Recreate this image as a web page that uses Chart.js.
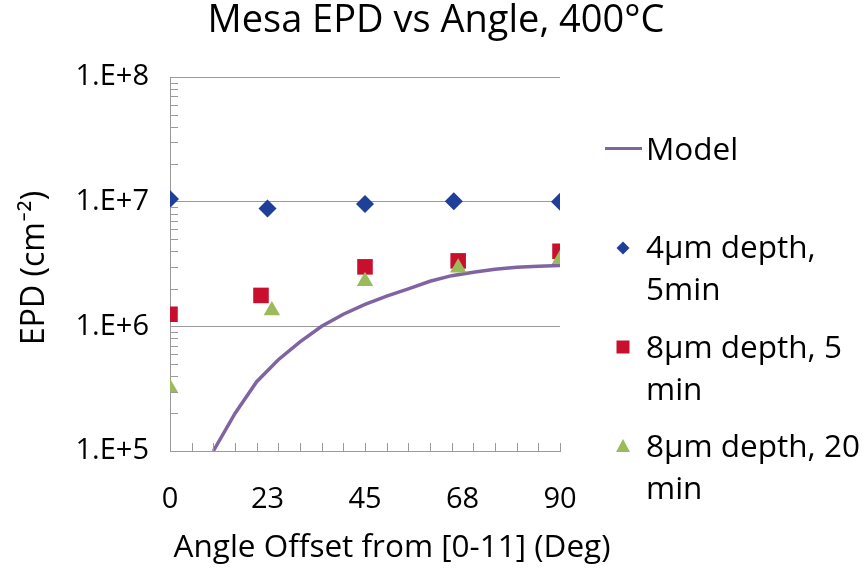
<!DOCTYPE html>
<html>
<head>
<meta charset="utf-8">
<script src="https://cdn.jsdelivr.net/npm/chart.js@4"></script>
<style>
  html, body { margin: 0; padding: 0; background: #fff; }
  #wrap { width: 868px; height: 571px; position: relative; }
</style>
</head>
<body>
<div id="wrap"><canvas id="chart" width="868" height="571"></canvas></div>
<script>
// ===== DATA =====
const xTickValues = [0, 22.5, 45, 67.5, 90];
const yTickValues = [1e5, 1e6, 1e7, 1e8];

const epd4um5minX = [0, 22.5, 45, 65.5, 90];
const epd4um5min  = [1.05e7, 8.8e6, 9.6e6, 1.01e7, 1.0e7];
const epd8um5minX = [0, 21, 45, 66.5, 90];
const epd8um5min  = [1.25e6, 1.77e6, 3.0e6, 3.35e6, 4.0e6];
const epd8um20minX = [0, 23.5, 45, 66.5, 90];
const epd8um20min = [3.2e5, 1.34e6, 2.3e6, 2.95e6, 3.45e6];

const modelX = [10, 15, 20, 25, 30, 35, 40, 45, 50, 55, 60, 65, 70, 75, 80, 85, 90];
const modelY = [1.0e5, 2.0e5, 3.6e5, 5.4e5, 7.5e5, 1.0e6, 1.25e6, 1.5e6, 1.75e6, 2.0e6,
                2.3e6, 2.55e6, 2.72e6, 2.87e6, 2.98e6, 3.03e6, 3.08e6];

const labels = ["Model", "4µm depth,\n5min", "8µm depth, 5\nmin", "8µm depth, 20\nmin"];
const colors = ["#8064A2", "#1F3F98", "#C8102E", "#9BBB59"];

const FONT = "'Open Sans', Lato, sans-serif";
const AXIS_GRAY = "#9A9A9A";

const pts = (xs, ys) => xs.map((x, i) => ({x, y: ys[i]}));

// ===== EXTRA DRAWING: titles, legend, inner minor ticks =====
const decor = {
  id: "decor",
  afterDraw(chart){
    const ctx = chart.ctx;
    const xs = chart.scales.x, ys = chart.scales.y;
    const area = chart.chartArea;
    ctx.save();

    // minor ticks on the y axis (inside)
    ctx.strokeStyle = AXIS_GRAY;
    ctx.lineWidth = 1;
    for(let d = 5; d < 8; d++){
      for(let m = 2; m <= 9; m++){
        const py = Math.round(ys.getPixelForValue(m * Math.pow(10, d))) + 0.5;
        ctx.beginPath();
        ctx.moveTo(area.left, py);
        ctx.lineTo(area.left + 8, py);
        ctx.stroke();
      }
    }
    // minor ticks on the x axis (inside), every 5 deg
    for(let v = 5; v <= 90; v += 5){
      const px = Math.round(xs.getPixelForValue(v)) + 0.5;
      ctx.beginPath();
      ctx.moveTo(px, area.bottom);
      ctx.lineTo(px, area.bottom - 8);
      ctx.stroke();
    }

    // title
    ctx.fillStyle = "#000";
    ctx.textAlign = "center";
    ctx.textBaseline = "alphabetic";
    ctx.font = `38px ${FONT}`;
    ctx.fillText("Mesa EPD vs Angle, 400°C", 436, 32);

    // x title
    ctx.font = `31.5px ${FONT}`;
    ctx.fillText("Angle Offset from [0-11] (Deg)", 392, 557);

    // y title
    ctx.save();
    ctx.translate(44, 268);
    ctx.rotate(-Math.PI / 2);
    ctx.textAlign = "center";
    ctx.font = `32px ${FONT}`;
    ctx.fillText("EPD (cm\u207B\u00B2)", 0, 0);
    ctx.restore();

    // legend
    ctx.textAlign = "left";
    ctx.font = `31.5px ${FONT}`;
    const ds = chart.data.datasets;
    // Model line sample
    ctx.strokeStyle = ds[0].borderColor;
    ctx.lineWidth = 3;
    ctx.beginPath();
    ctx.moveTo(605, 148.5);
    ctx.lineTo(642, 148.5);
    ctx.stroke();
    ctx.fillStyle = "#000";
    ctx.fillText(ds[0].label, 646, 160);

    const rows = [
      {y: 258, my: 248, idx: 1},
      {y: 358, my: 347, idx: 2},
      {y: 457, my: 446, idx: 3}
    ];
    rows.forEach(r => {
      const d = ds[r.idx];
      const mx = 623, my = r.my;
      ctx.fillStyle = d.backgroundColor;
      ctx.beginPath();
      if(d.pointStyle === "rectRot"){
        ctx.moveTo(mx, my - 6.5); ctx.lineTo(mx + 6.5, my); ctx.lineTo(mx, my + 6.5); ctx.lineTo(mx - 6.5, my);
      } else if(d.pointStyle === "rect"){
        ctx.rect(mx - 6.5, my - 6.5, 13, 13);
      } else {
        ctx.moveTo(mx, my - 7); ctx.lineTo(mx + 7, my + 6); ctx.lineTo(mx - 7, my + 6);
      }
      ctx.closePath();
      ctx.fill();
      ctx.fillStyle = "#000";
      const lines = d.label.split("\n");
      lines.forEach((t, i) => ctx.fillText(t, 646, r.y + i * 42));
    });

    ctx.restore();
  }
};

new Chart(document.getElementById("chart"), {
  type: "scatter",
  data: {
    datasets: [
      {
        label: labels[0], type: "line", data: pts(modelX, modelY),
        borderColor: colors[0], backgroundColor: colors[0],
        borderWidth: 3.5, pointRadius: 0, tension: 0, showLine: true, order: 4
      },
      {
        label: labels[1], data: pts(epd4um5minX, epd4um5min),
        backgroundColor: colors[1], borderColor: colors[1],
        pointStyle: "rectRot", pointRadius: 9, borderWidth: 0, order: 3
      },
      {
        label: labels[2], data: pts(epd8um5minX, epd8um5min),
        backgroundColor: colors[2], borderColor: colors[2],
        pointStyle: "rect", pointRadius: 11, borderWidth: 0, order: 2
      },
      {
        label: labels[3], data: pts(epd8um20minX, epd8um20min),
        backgroundColor: colors[3], borderColor: colors[3],
        pointStyle: "triangle", pointRadius: 9.5, borderWidth: 0, order: 1
      }
    ]
  },
  options: {
    responsive: false,
    animation: false,
    layout: { padding: { top: 77, right: 308, bottom: 0, left: 0 } },
    plugins: {
      legend: { display: false },
      title: { display: false },
      tooltip: { enabled: false }
    },
    scales: {
      x: {
        type: "linear", min: 0, max: 90,
        afterFit: s => { s.height = 120; },
        afterBuildTicks: s => { s.ticks = xTickValues.map(v => ({value: v})); },
        grid: { display: false, drawTicks: false },
        border: { color: AXIS_GRAY, width: 1 },
        ticks: {
          padding: 31, color: "#000",
          font: { family: FONT, size: 29 },
          callback: v => String(Math.round(v))
        }
      },
      y: {
        type: "logarithmic", min: 1e5, max: 1e8,
        afterFit: s => { s.width = 170; },
        afterBuildTicks: s => { s.ticks = yTickValues.map(v => ({value: v})); },
        grid: {
          drawTicks: false,
          color: c => (c.tick && c.tick.value > 1e5) ? AXIS_GRAY : "rgba(0,0,0,0)",
          lineWidth: 1
        },
        border: { color: AXIS_GRAY, width: 1 },
        ticks: {
          padding: 21, color: "#000",
          font: { family: FONT, size: 29 },
          callback: v => "1.E+" + Math.round(Math.log10(v))
        }
      }
    }
  },
  plugins: [decor]
});
</script>
</body>
</html>
